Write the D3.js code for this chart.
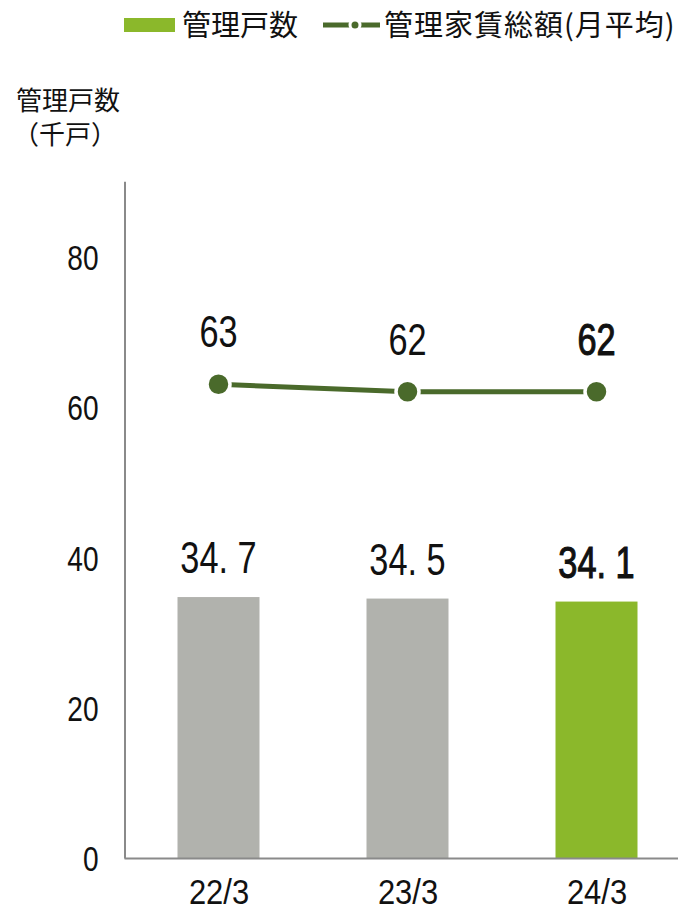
<!DOCTYPE html>
<html>
<head>
<meta charset="utf-8">
<script src="https://cdn.jsdelivr.net/npm/d3@7"></script>
<style>
  html, body { margin: 0; padding: 0; background: #fff; }
  svg { display: block; }
  .num { font-family: "Liberation Sans", Arial, sans-serif; fill: #111; }
  .strong { stroke: #111; stroke-width: 1.1; }
  .jp { font-family: "Noto Sans CJK JP", "Noto Sans", sans-serif; fill: #111; }
</style>
</head>
<body>
<svg id="chart" width="678" height="912"></svg>
<script>
// Fiscal year-end periods
const categories = ["22/3", "23/3", "24/3"];
// Units under management (thousand units)
const managedUnits = [34.7, 34.5, 34.1];
// Total managed rent, monthly average
const managedRent = [63, 62, 62];
// Y-axis tick values
const yTicks = [0, 20, 40, 60, 80];

const barGray = "#b1b2ad";
const barGreen = "#8bb82b";
const lineGreen = "#4a6a2b";
const axisGray = "#8a8a8a";
// horizontal squeeze that gives the numerals their condensed look
const squeeze = 0.78;

const svg = d3.select("#chart");

const y = d3.scaleLinear().domain([0, 90]).range([858, 181.2]);
const x = d3.scalePoint().domain(categories).range([124, 691]).padding(0.5);
const barWidth = 82;
const last = categories.length - 1;

// Y axis
const yAxis = svg.append("g")
  .attr("transform", "translate(124.5,0)")
  .call(d3.axisLeft(y).tickValues(yTicks).tickSize(0).tickSizeOuter(0).tickPadding(26));
yAxis.select(".domain").attr("stroke", axisGray).attr("stroke-width", 2);
yAxis.selectAll("text")
  .attr("class", "num")
  .attr("font-size", 36)
  .attr("x", -26 / squeeze)
  .attr("dy", "0.36em")
  .attr("transform", `scale(${squeeze},1)`);

// Bars
svg.append("g").selectAll("rect")
  .data(managedUnits)
  .join("rect")
  .attr("x", (d, i) => x(categories[i]) - barWidth / 2)
  .attr("y", d => y(d))
  .attr("width", barWidth)
  .attr("height", d => y(0) - y(d))
  .attr("fill", (d, i) => i === last ? barGreen : barGray);

// X axis (baseline)
const xAxis = svg.append("g")
  .attr("transform", "translate(0,858)")
  .call(d3.axisBottom(x).tickSize(0).tickSizeOuter(0).tickPadding(20));
xAxis.select(".domain").attr("stroke", axisGray).attr("stroke-width", 2);
xAxis.selectAll("text")
  .attr("class", "num")
  .attr("font-size", 36)
  .attr("transform", "scale(0.86,1)");

// Bar value labels
svg.append("g").selectAll("text")
  .data(managedUnits)
  .join("text")
  .attr("class", (d, i) => i === last ? "num strong" : "num")
  .attr("transform", (d, i) => `translate(${x(categories[i])},${y(d) - 24}) scale(${squeeze},1)`)
  .attr("text-anchor", "middle")
  .attr("font-size", 44)
  .text(d => d3.format(".1f")(d).replace(".", ". "));

// Rent line
const line = d3.line()
  .x((d, i) => x(categories[i]))
  .y(d => y(d));
svg.append("path")
  .datum(managedRent)
  .attr("d", line)
  .attr("fill", "none")
  .attr("stroke", lineGreen)
  .attr("stroke-width", 5);

svg.append("g").selectAll("circle")
  .data(managedRent)
  .join("circle")
  .attr("cx", (d, i) => x(categories[i]))
  .attr("cy", d => y(d))
  .attr("r", 11.5)
  .attr("fill", lineGreen)
  .attr("stroke", "#fff")
  .attr("stroke-width", 3.5);

svg.append("g").selectAll("text")
  .data(managedRent)
  .join("text")
  .attr("class", (d, i) => i === last ? "num strong" : "num")
  .attr("transform", (d, i) => `translate(${x(categories[i])},${y(d) - 37}) scale(${squeeze},1)`)
  .attr("text-anchor", "middle")
  .attr("font-size", 44)
  .text(d => d3.format("d")(d));

// Axis title
const title = svg.append("text").attr("class", "jp").attr("font-size", 26);
title.append("tspan").attr("x", 16).attr("y", 110).text("管理戸数");
title.append("tspan").attr("x", 13).attr("y", 144).text("（千戸）");

// Legend
const legend = svg.append("g");
legend.append("rect")
  .attr("x", 124).attr("y", 18).attr("width", 51).attr("height", 14)
  .attr("fill", barGreen);
legend.append("text")
  .attr("class", "jp").attr("font-size", 29)
  .attr("x", 182).attr("y", 36)
  .text("管理戸数");
legend.append("line")
  .attr("x1", 323).attr("x2", 380).attr("y1", 25).attr("y2", 25)
  .attr("stroke", lineGreen).attr("stroke-width", 5);
legend.append("circle")
  .attr("cx", 355).attr("cy", 25).attr("r", 5)
  .attr("fill", lineGreen).attr("stroke", "#fff").attr("stroke-width", 3);
legend.append("text")
  .attr("class", "jp").attr("font-size", 29)
  .attr("letter-spacing", 1)
  .attr("x", 384).attr("y", 36)
  .text("管理家賃総額(月平均)");
</script>
</body>
</html>
